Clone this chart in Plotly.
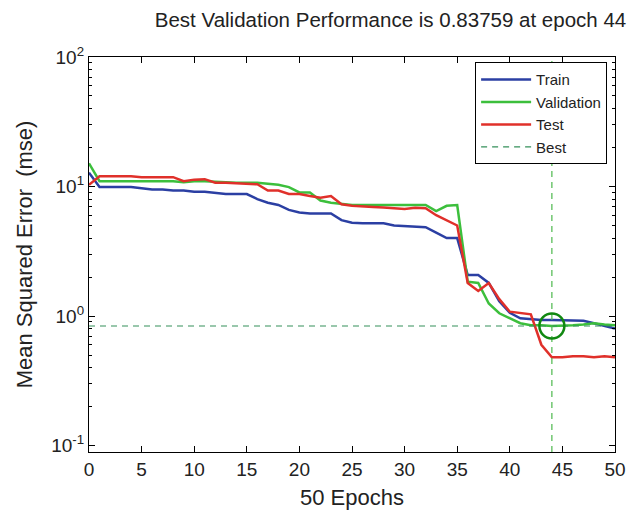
import plotly.graph_objects as go

epochs = list(range(51))

train = [12.8, 9.9, 9.9, 9.9, 9.9, 9.7, 9.5, 9.5, 9.3, 9.3,
         9.1, 9.1, 8.9, 8.75, 8.75, 8.75, 8.0, 7.5, 7.2, 6.6,
         6.3, 6.2, 6.2, 6.2, 5.5, 5.25, 5.2, 5.2, 5.2, 5.0,
         4.95, 4.9, 4.85, 4.4, 4.0, 4.0, 2.07, 2.07, 1.8, 1.3,
         1.06, 0.96, 0.94, 0.93, 0.93, 0.93, 0.93, 0.92, 0.88, 0.84,
         0.80]

validation = [15.1, 11.0, 11.0, 11.0, 11.0, 11.0, 11.0, 11.0, 11.0, 10.8,
              11.0, 11.0, 10.9, 10.7, 10.7, 10.7, 10.7, 10.5, 10.3, 9.9,
              9.0, 9.0, 7.8, 7.5, 7.3, 7.2, 7.2, 7.2, 7.2, 7.2,
              7.2, 7.2, 7.2, 6.45, 7.1, 7.2, 1.84, 1.8, 1.25, 1.05,
              0.96, 0.88, 0.85, 0.85, 0.83759, 0.84, 0.85, 0.86, 0.88, 0.86,
              0.85]

test = [10.3, 12.0, 12.0, 12.0, 12.0, 11.8, 11.8, 11.8, 11.8, 11.0,
        11.3, 11.4, 10.7, 10.7, 10.6, 10.5, 10.4, 9.3, 9.3, 8.75,
        8.75, 8.45, 8.2, 8.45, 7.3, 7.1, 7.0, 6.95, 6.9, 6.8,
        6.7, 6.85, 6.8, 6.0, 5.5, 5.0, 1.8, 1.56, 1.8, 1.35,
        1.08, 1.05, 1.03, 0.6, 0.48, 0.48, 0.49, 0.49, 0.48, 0.49,
        0.48]

best_epoch = 44
best_perf = 0.83759

ytick_vals = [0.1, 1, 10, 100]
ytick_text = ["10<sup>-1</sup>", "10<sup>0</sup>", "10<sup>1</sup>", "10<sup>2</sup>"]
yminor_vals = [m * d for d in (0.1, 1, 10) for m in range(2, 10)]
xtick_vals = list(range(0, 51, 5))

font_family = "Liberation Sans, Arial, Helvetica, sans-serif"
txt = "#222222"

fig = go.Figure()
fig.add_trace(go.Scatter(x=epochs, y=train, mode="lines", name="Train",
                         line=dict(color="#2b3fa3", width=2.5)))
fig.add_trace(go.Scatter(x=epochs, y=validation, mode="lines", name="Validation",
                         line=dict(color="#3cbf3c", width=2.5)))
fig.add_trace(go.Scatter(x=epochs, y=test, mode="lines", name="Test",
                         line=dict(color="#e0302a", width=2.5)))
fig.add_trace(go.Scatter(x=[0, 50], y=[best_perf, best_perf], mode="lines", name="Best",
                         line=dict(color="#35905a", width=1.2, dash="6px,5px")))
fig.add_trace(go.Scatter(x=[best_epoch, best_epoch], y=[10 ** -1.05, 100], mode="lines",
                         showlegend=False,
                         line=dict(color="#4cb84c", width=1.2, dash="6px,5px")))
fig.add_trace(go.Scatter(x=[best_epoch], y=[best_perf], mode="markers", showlegend=False,
                         marker=dict(symbol="circle-open", size=25,
                                     line=dict(color="#118811", width=2.5),
                                     color="#118811")))

fig.update_layout(
    width=632, height=511,
    margin=dict(l=89, r=17, t=57, b=59, autoexpand=False),
    paper_bgcolor="white", plot_bgcolor="white",
    font=dict(family=font_family, size=19, color=txt),
    title=dict(text="Best Validation Performance is 0.83759 at epoch 44",
               x=390.5 / 632, xanchor="center", y=1 - 20 / 511, yanchor="middle",
               font=dict(size=20.5, color=txt), automargin=False),
    showlegend=True,
    legend=dict(x=0.985, y=0.987, xanchor="right", yanchor="top",
                bgcolor="white", bordercolor="black", borderwidth=1,
                font=dict(size=15, color=txt), tracegroupgap=0,
                itemwidth=50, traceorder="normal"),
)

fig.update_xaxes(range=[0, 50], tickvals=xtick_vals, ticks="inside", ticklen=6,
                 showline=True, linecolor="black", linewidth=1.2, mirror="allticks",
                 showgrid=False, zeroline=False, tickcolor="black", automargin=False,
                 title=dict(text="50 Epochs", font=dict(size=22, color=txt), standoff=10))
fig.update_yaxes(type="log", range=[-1.05, 2], tickvals=ytick_vals, ticktext=ytick_text,
                 ticks="inside", ticklen=6, tickcolor="black", automargin=False,
                 minor=dict(tickmode="array", tickvals=yminor_vals, ticks="inside",
                            ticklen=3, tickcolor="black", showgrid=False),
                 showline=True, linecolor="black", linewidth=1.2, mirror="allticks",
                 showgrid=False, zeroline=False,
                 title=dict(text="Mean Squared Error  (mse)", font=dict(size=22, color=txt), standoff=12))

fig.write_html("out.html", config={"displayModeBar": False},
               post_script="document.body.style.margin='0';")
